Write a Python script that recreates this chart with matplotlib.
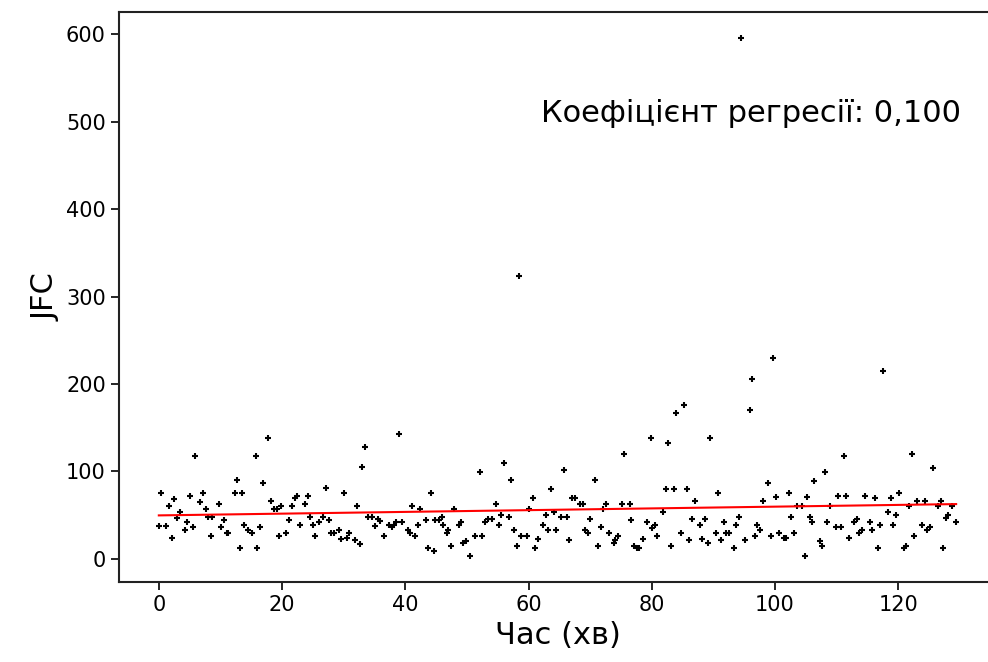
import matplotlib
matplotlib.use('Agg')
import matplotlib.pyplot as plt
import numpy as np

# час (хв) і значення JFC
time_min = [
    0.4, 0.0, 1.2, 1.6, 2.5, 2.1, 3.0, 3.4, 4.2, 4.6, 5.1, 5.5, 5.9, 6.7, 7.1, 7.7, 8.0, 8.7, 8.4, 9.7,
    10.1, 10.6, 11.0, 11.3, 12.3, 12.7, 13.5, 13.1, 13.9, 14.4, 15.2, 15.7, 16.5, 16.0, 16.9, 17.8, 18.2, 18.7, 19.1, 19.9,
    19.5, 20.7, 21.2, 21.6, 22.1, 22.5, 22.9, 23.7, 24.2, 24.6, 25.0, 25.4, 26.0, 26.7, 27.1, 27.6, 28.0, 28.4, 29.2, 29.6,
    30.1, 30.5, 30.9, 31.8, 32.6, 32.2, 33.0, 33.5, 33.9, 34.6, 35.1, 35.6, 35.9, 36.5, 37.3, 37.8, 38.2, 38.5, 39.0, 39.4,
    40.4, 40.7, 41.1, 41.6, 42.0, 42.4, 43.3, 43.7, 44.1, 44.6, 44.9, 45.4, 45.9, 46.1, 46.7, 46.9, 47.5, 47.9, 48.7, 49.1,
    49.3, 49.8, 50.5, 51.3, 52.1, 52.5, 53.0, 53.5, 54.1, 54.8, 55.2, 55.6, 56.0, 56.8, 57.2, 57.7, 58.1, 58.5, 58.8, 59.8,
    60.1, 60.7, 61.1, 61.5, 62.3, 62.8, 63.2, 63.6, 64.1, 64.5, 65.3, 65.8, 66.2, 66.5, 67.0, 67.5, 68.4, 68.8, 69.2, 69.6,
    70.0, 70.8, 71.2, 71.7, 72.1, 72.6, 73.0, 73.8, 74.1, 74.6, 75.1, 75.5, 76.4, 76.7, 77.2, 77.6, 78.0, 78.5, 79.3, 79.8,
    80.1, 80.5, 80.9, 81.9, 82.3, 82.7, 83.2, 83.6, 84.0, 85.3, 84.8, 85.7, 86.1, 86.5, 87.0, 87.8, 88.2, 88.7, 89.1, 89.5,
    90.4, 90.8, 91.2, 91.7, 92.1, 92.5, 93.4, 93.7, 94.2, 94.5, 95.1, 95.9, 96.3, 96.7, 97.1, 97.6, 98.0, 98.9, 99.3, 99.7,
    100.1, 100.6, 101.4, 101.8, 102.2, 102.6, 103.1, 103.6, 104.4, 104.8, 105.2, 105.7, 106.0, 106.4, 107.3, 107.7, 108.1, 108.4,
    109.0, 109.9, 110.3, 110.7, 111.2, 111.6, 112.0, 112.9, 113.3, 113.6, 114.1, 114.6, 115.4, 115.8, 116.3, 116.7, 117.1, 117.5,
    118.3, 118.8, 119.2, 119.7, 120.1, 120.9, 121.3, 121.8, 122.2, 122.6, 123.0, 123.9, 124.3, 124.7, 125.1, 125.6, 126.5, 126.9,
    127.3, 127.7, 128.0, 128.7, 129.4,
]
jfc = [
    75, 38, 38, 60, 68, 24, 47, 53, 33, 42, 72, 36, 117, 65, 75, 57, 48, 48, 26, 63,
    36, 44, 29, 29, 75, 90, 75, 12, 39, 33, 29, 117, 36, 12, 87, 138, 66, 57, 57, 60,
    26, 29, 44, 60, 69, 72, 39, 63, 72, 48, 39, 26, 42, 48, 81, 44, 29, 29, 33, 23,
    75, 24, 30, 22, 17, 60, 105, 128, 48, 48, 38, 45, 43, 26, 39, 36, 39, 42, 143, 42,
    33, 29, 60, 26, 39, 57, 44, 12, 75, 9, 44, 44, 48, 39, 29, 33, 15, 57, 39, 42,
    18, 20, 3, 26, 99, 26, 42, 45, 45, 63, 39, 50, 110, 48, 90, 33, 15, 323, 26, 26,
    57, 69, 12, 23, 39, 50, 33, 80, 54, 33, 48, 101, 48, 21, 69, 69, 63, 63, 33, 29,
    45, 90, 15, 36, 57, 63, 29, 18, 21, 26, 63, 120, 63, 44, 15, 12, 12, 23, 42, 138,
    35, 39, 26, 54, 80, 132, 15, 80, 167, 176, 29, 80, 21, 45, 66, 39, 23, 45, 18, 138,
    29, 75, 21, 42, 29, 29, 12, 39, 48, 596, 21, 170, 206, 26, 39, 33, 66, 87, 26, 230,
    71, 29, 24, 24, 75, 48, 29, 60, 60, 3, 71, 48, 42, 89, 20, 15, 99, 42,
    60, 36, 72, 36, 117, 72, 24, 42, 45, 29, 33, 72, 42, 33, 69, 12, 39, 215,
    53, 69, 39, 50, 75, 12, 15, 60, 120, 26, 66, 39, 66, 33, 36, 104, 60, 66,
    12, 47, 50, 60, 42,
]

slope = 0.100
intercept = 49.6

fig = plt.figure(figsize=(9.88, 6.62), dpi=100)
ax = fig.add_axes([0.1204, 0.1208, 0.8877, 0.8611])

ax.scatter(time_min, jfc, marker='+', s=18, linewidths=1.5, color='black', zorder=2)

x_line = np.array([min(time_min), max(time_min)])
ax.plot(x_line, intercept + slope * x_line, color='red', linewidth=1.5, zorder=3)

ax.text(62, 500, 'Коефіцієнт регресії: ' + f'{slope:.3f}'.replace('.', ','), fontsize=22)

ax.set_xlabel('Час (хв)', fontsize=22)
ax.set_ylabel('JFC', fontsize=22)
ax.tick_params(labelsize=15, length=6, width=1.2)
for s in ax.spines.values():
    s.set_linewidth(1.5)
    s.set_color('#222222')
ax.spines['right'].set_visible(False)

fig.savefig('out.png', dpi=100)
